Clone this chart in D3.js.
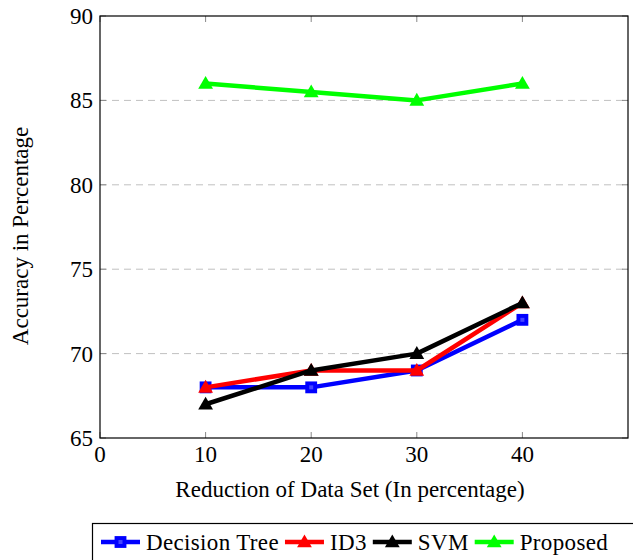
<!DOCTYPE html>
<html>
<head>
<meta charset="utf-8">
<script src="https://cdn.jsdelivr.net/npm/d3@7"></script>
<style>
  html, body { margin: 0; padding: 0; background: #fff; }
  svg { display: block; }
</style>
</head>
<body>
<svg id="chart" width="633" height="560" font-family="'Liberation Serif', 'DejaVu Serif', 'Times New Roman', Times, serif"></svg>
<script>
// Accuracy vs. data-set reduction
const reductions = [10, 20, 30, 40];
const decisionTree = [68, 68, 69, 72];
const id3 = [68, 69, 69, 73];
const svmAcc = [67, 69, 70, 73];
const proposed = [86, 85.5, 85, 86];
const xTicks = [0, 10, 20, 30, 40];
const yTicks = [65, 70, 75, 80, 85, 90];

const series = [
  { name: "Decision Tree", values: decisionTree, color: "#0000ff", mark: "square" },
  { name: "ID3", values: id3, color: "#ff0000", mark: "triangle" },
  { name: "SVM", values: svmAcc, color: "#000000", mark: "triangle" },
  { name: "Proposed", values: proposed, color: "#00ff00", mark: "triangle" }
];

const svg = d3.select("#chart");
const plotL = 100, plotR = 628, plotT = 16, plotB = 438;
const fontSize = 23;

const x = d3.scaleLinear().domain([0, 50]).range([plotL, plotR]);
const y = d3.scaleLinear().domain([65, 90]).range([plotB, plotT]);

// dashed horizontal grid
svg.append("g").selectAll("line")
  .data(yTicks.filter(t => t > 65 && t < 90))
  .join("line")
  .attr("x1", plotL).attr("x2", plotR)
  .attr("y1", d => y(d)).attr("y2", d => y(d))
  .attr("stroke", "#c0c0c0").attr("stroke-width", 1)
  .attr("stroke-dasharray", "7,5");

// inward tick marks on all four sides
const tickLen = 6;
const ticks = svg.append("g").attr("stroke", "#888").attr("stroke-width", 1);
xTicks.forEach(t => {
  ticks.append("line").attr("x1", x(t)).attr("x2", x(t)).attr("y1", plotB).attr("y2", plotB - tickLen);
  ticks.append("line").attr("x1", x(t)).attr("x2", x(t)).attr("y1", plotT).attr("y2", plotT + tickLen);
});
yTicks.forEach(t => {
  ticks.append("line").attr("x1", plotL).attr("x2", plotL + tickLen).attr("y1", y(t)).attr("y2", y(t));
  ticks.append("line").attr("x1", plotR).attr("x2", plotR - tickLen).attr("y1", y(t)).attr("y2", y(t));
});

// frame
svg.append("rect")
  .attr("x", plotL).attr("y", plotT)
  .attr("width", plotR - plotL).attr("height", plotB - plotT)
  .attr("fill", "none").attr("stroke", "#000").attr("stroke-width", 1.2);

// tick labels
svg.append("g").selectAll("text").data(xTicks).join("text")
  .attr("x", d => x(d)).attr("y", plotB + 24)
  .attr("text-anchor", "middle").attr("font-size", fontSize)
  .text(d => d);
svg.append("g").selectAll("text").data(yTicks).join("text")
  .attr("x", plotL - 7).attr("y", d => y(d) + 8)
  .attr("text-anchor", "end").attr("font-size", fontSize)
  .text(d => d);

// axis titles
svg.append("text")
  .attr("x", 350).attr("y", 497)
  .attr("text-anchor", "middle").attr("font-size", fontSize)
  .text("Reduction of Data Set (In percentage)");
svg.append("text")
  .attr("transform", "translate(28,236) rotate(-90)")
  .attr("text-anchor", "middle").attr("font-size", fontSize)
  .text("Accuracy in Percentage");

const tri = d3.symbol().type(d3.symbolTriangle).size(95);
const sq = d3.symbol().type(d3.symbolSquare).size(140);

function drawMark(g, s, cx, cy) {
  if (s.mark === "square") {
    g.append("path").attr("d", sq()).attr("transform", `translate(${cx},${cy})`)
      .attr("fill", s.color);
    g.append("rect").attr("x", cx - 2).attr("y", cy - 2).attr("width", 4).attr("height", 4)
      .attr("fill", "#4444ff");
  } else {
    g.append("path").attr("d", tri()).attr("transform", `translate(${cx},${cy + 1})`)
      .attr("fill", s.color);
  }
}

const line = d3.line().x(d => x(d[0])).y(d => y(d[1]));

series.forEach(s => {
  const pts = reductions.map((r, i) => [r, s.values[i]]);
  const g = svg.append("g");
  g.append("path").attr("d", line(pts))
    .attr("fill", "none").attr("stroke", s.color).attr("stroke-width", 4.5)
    .attr("stroke-linejoin", "round");
  pts.forEach(p => drawMark(g, s, x(p[0]), y(p[1])));
});

// legend, laid out left to right
const lg = svg.append("g");
lg.append("rect").attr("x", 92.5).attr("y", 523.5).attr("width", 560).attr("height", 60)
  .attr("fill", "#fff").attr("stroke", "#000").attr("stroke-width", 1.2);
let cursor = 101;
const ly = 542;
series.forEach(s => {
  lg.append("line").attr("x1", cursor).attr("x2", cursor + 39).attr("y1", ly).attr("y2", ly)
    .attr("stroke", s.color).attr("stroke-width", 4.5);
  drawMark(lg, s, cursor + 19.5, ly);
  const t = lg.append("text").attr("x", cursor + 45).attr("y", ly + 8)
    .attr("font-size", fontSize).attr("letter-spacing", 0.35).text(s.name);
  cursor = cursor + 45 + t.node().getComputedTextLength() + 6;
});
</script>
</body>
</html>
